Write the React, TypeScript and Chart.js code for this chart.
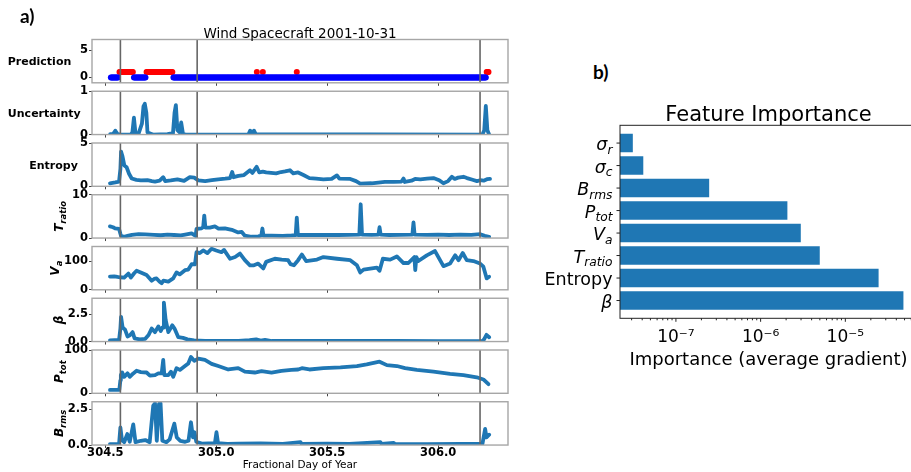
import React, { useEffect, useRef } from 'react';
import { Chart, registerables } from 'chart.js';

Chart.register(...registerables);

const FAMILY = "'DejaVu Sans', sans-serif";
const MPL_BLUE = '#1f77b4';

// ---------------- panel a : shared time axis ----------------
const dayTicks = [304.5, 305.0, 305.5, 306.0];
const dayTickLabels = ['304.5', '305.0', '305.5', '306.0'];
const eventDays = [304.568, 304.914, 306.189];

// classifier output, run-length encoded: [first day, last day, class]
const predictionCadence = 0.004;
const predictionRuns: [number, number, number][] = [
  [304.525, 304.56, 0],
  [304.564, 304.625, 1],
  [304.629, 304.682, 0],
  [304.686, 304.803, 1],
  [304.807, 306.215, 0],
  [306.219, 306.228, 1],
];
const predictionFlagDays = [305.183, 305.21, 305.363];

const uncertaintySeries: [number, number][] = [
  [304.522, 0.01], [304.535, 0.01], [304.545, 0.09], [304.555, 0.01], [304.568, 0.0],
  [304.615, 0.0], [304.622, 0.05], [304.629, 0.39], [304.636, 0.03], [304.65, 0.02],
  [304.665, 0.25], [304.672, 0.65], [304.678, 0.71], [304.685, 0.5], [304.69, 0.05],
  [304.705, 0.02], [304.715, 0.0], [304.78, 0.01], [304.805, 0.03], [304.812, 0.5],
  [304.818, 0.68], [304.825, 0.1], [304.835, 0.05], [304.842, 0.28], [304.85, 0.02],
  [304.86, 0.0], [305.145, 0.0], [305.153, 0.09], [305.162, 0.03], [305.17, 0.09],
  [305.178, 0.01], [306.2, 0.0], [306.208, 0.1], [306.215, 0.66], [306.222, 0.1], [306.23, 0.0],
];

const entropySeries: [number, number][] = [
  [304.521, 0.35], [304.545, 0.45], [304.562, 0.55], [304.568, 2.0], [304.571, 4.0],
  [304.577, 3.5], [304.586, 2.4], [304.596, 2.2], [304.607, 1.45], [304.619, 0.9],
  [304.64, 0.75], [304.66, 0.68], [304.69, 0.7], [304.71, 0.6], [304.724, 0.55],
  [304.745, 0.65], [304.761, 1.05], [304.77, 0.6], [304.795, 0.68], [304.825, 0.8],
  [304.855, 0.62], [304.881, 1.05], [304.901, 1.0], [304.919, 0.68], [304.95, 0.6],
  [304.98, 0.7], [305.009, 0.8], [305.04, 0.88], [305.062, 0.95], [305.072, 1.65],
  [305.078, 1.05], [305.1, 1.2], [305.125, 1.3], [305.152, 1.85], [305.163, 1.55],
  [305.182, 2.25], [305.194, 1.6], [305.21, 1.7], [305.225, 1.6], [305.247, 1.55],
  [305.27, 1.5], [305.292, 1.65], [305.31, 1.72], [305.332, 1.85], [305.347, 1.5],
  [305.369, 1.6], [305.393, 1.3], [305.42, 0.94], [305.45, 0.88], [305.483, 0.8],
  [305.52, 0.85], [305.544, 1.26], [305.555, 0.88], [305.604, 0.85], [305.63, 0.6],
  [305.649, 0.3], [305.7, 0.35], [305.76, 0.5], [305.8, 0.52], [305.835, 0.55],
  [305.844, 0.9], [305.85, 0.5], [305.88, 0.65], [305.896, 0.85], [305.92, 0.8],
  [305.95, 0.88], [305.979, 0.95], [306.005, 0.7], [306.024, 0.35], [306.045, 0.6],
  [306.062, 1.1], [306.075, 0.85], [306.09, 1.0], [306.114, 1.1], [306.13, 0.95],
  [306.155, 0.75], [306.175, 0.6], [306.19, 0.7], [306.205, 0.65], [306.22, 0.82], [306.234, 0.85],
];

const tRatioSeries: [number, number][] = [
  [304.521, 2.7], [304.535, 2.5], [304.544, 2.25], [304.562, 2.1], [304.568, 1.0],
  [304.571, 0.5], [304.585, 0.3], [304.6, 0.5], [304.62, 0.75], [304.65, 0.9],
  [304.68, 0.85], [304.72, 0.75], [304.75, 0.65], [304.78, 0.8], [304.81, 0.7],
  [304.84, 0.6], [304.86, 0.8], [304.889, 1.1], [304.907, 0.5], [304.911, 2.1],
  [304.934, 2.25], [304.941, 2.5], [304.946, 5.2], [304.951, 2.4], [304.971, 2.4],
  [304.994, 2.7], [305.01, 2.2], [305.039, 2.25], [305.07, 1.9], [305.099, 1.3],
  [305.115, 1.4], [305.129, 0.55], [305.159, 0.3], [305.19, 0.4], [305.203, 0.6],
  [305.208, 2.2], [305.213, 0.55], [305.25, 0.55], [305.3, 0.5], [305.34, 0.6],
  [305.358, 0.7], [305.363, 4.7], [305.368, 0.7], [305.4, 0.75], [305.45, 0.7],
  [305.5, 0.75], [305.55, 0.7], [305.6, 0.75], [305.645, 0.8], [305.651, 7.8],
  [305.657, 0.8], [305.7, 0.75], [305.731, 0.8], [305.736, 2.5], [305.741, 0.8],
  [305.78, 0.7], [305.83, 0.75], [305.884, 0.8], [305.889, 3.6], [305.894, 0.8],
  [305.95, 0.75], [306.0, 0.8], [306.05, 0.7], [306.1, 0.8], [306.15, 0.75],
  [306.19, 0.9], [306.21, 0.5], [306.23, 0.3],
];

const vaSeries: [number, number][] = [
  [304.521, 46], [304.54, 47], [304.555, 45], [304.566, 44], [304.585, 43], [304.604, 57],
  [304.615, 43], [304.63, 58], [304.641, 67], [304.66, 61], [304.686, 52], [304.709, 32],
  [304.72, 38], [304.731, 40], [304.745, 28], [304.754, 23], [304.762, 32], [304.784, 29],
  [304.806, 40], [304.821, 61], [304.835, 54], [304.859, 69], [304.874, 71], [304.889, 90],
  [304.904, 89], [304.911, 132], [304.926, 129], [304.941, 138], [304.96, 129], [304.979, 144],
  [305.0, 138], [305.024, 132], [305.035, 140], [305.062, 109], [305.085, 115], [305.107, 127],
  [305.129, 104], [305.152, 86], [305.17, 86], [305.189, 92], [305.212, 75], [305.225, 98],
  [305.264, 109], [305.295, 106], [305.324, 104], [305.335, 90], [305.35, 86], [305.369, 104],
  [305.386, 124], [305.405, 101], [305.454, 106], [305.483, 115], [305.544, 109], [305.604, 104],
  [305.634, 86], [305.649, 61], [305.664, 71], [305.724, 78], [305.736, 67], [305.751, 109],
  [305.784, 106], [305.814, 117], [305.844, 94], [305.866, 94], [305.893, 115], [305.897, 69],
  [305.902, 115], [305.911, 101], [305.949, 121], [305.986, 136], [306.024, 83], [306.054, 92],
  [306.077, 121], [306.092, 104], [306.111, 129], [306.129, 104], [306.159, 101], [306.189, 92],
  [306.204, 81], [306.219, 40], [306.23, 46],
];

const betaSeries: [number, number][] = [
  [304.521, 0.1], [304.562, 0.15], [304.568, 1.2], [304.571, 2.28], [304.578, 1.3],
  [304.589, 1.1], [304.6, 0.47], [304.612, 0.6], [304.623, 0.87], [304.632, 0.3],
  [304.655, 0.2], [304.68, 0.25], [304.695, 0.6], [304.709, 1.2], [304.724, 0.87],
  [304.739, 1.4], [304.75, 0.97], [304.757, 1.28], [304.762, 1.3], [304.764, 3.6],
  [304.772, 2.0], [304.784, 0.87], [304.802, 1.5], [304.812, 1.2], [304.829, 0.4],
  [304.85, 0.34], [304.87, 0.2], [304.9, 0.1], [304.95, 0.05], [305.1, 0.05],
  [305.15, 0.12], [305.18, 0.2], [305.2, 0.08], [305.22, 0.15], [305.25, 0.05],
  [305.5, 0.05], [305.8, 0.05], [306.0, 0.04], [306.2, 0.05], [306.207, 0.2],
  [306.218, 0.62], [306.23, 0.4],
];

const pTotSeries: [number, number][] = [
  [304.521, 7.7], [304.563, 7.7], [304.568, 30], [304.57, 42], [304.576, 48], [304.585, 38],
  [304.6, 46], [304.61, 38], [304.626, 46], [304.641, 52], [304.66, 49], [304.686, 48],
  [304.701, 41], [304.724, 42], [304.739, 46], [304.754, 46], [304.761, 77], [304.766, 42],
  [304.784, 42], [304.796, 50], [304.806, 38], [304.821, 58], [304.836, 54], [304.859, 63],
  [304.874, 69], [304.886, 84], [304.901, 75], [304.919, 80], [304.949, 77], [304.979, 68],
  [305.009, 63], [305.054, 55], [305.099, 58], [305.129, 50], [305.174, 48], [305.204, 51],
  [305.249, 48], [305.294, 52], [305.339, 54], [305.369, 55], [305.386, 58], [305.42, 55],
  [305.483, 58], [305.56, 60], [305.634, 63], [305.678, 67], [305.736, 73], [305.769, 65],
  [305.814, 63], [305.851, 58], [305.904, 54], [305.979, 50], [306.054, 45], [306.114, 42],
  [306.174, 37], [306.204, 32], [306.227, 21],
];

const bRmsSeries: [number, number][] = [
  [304.521, 0.07], [304.562, 0.07], [304.568, 1.24], [304.575, 0.35], [304.585, 0.2],
  [304.599, 0.77], [304.61, 0.23], [304.626, 1.45], [304.636, 0.2], [304.66, 0.3],
  [304.68, 0.35], [304.7, 0.2], [304.716, 2.77], [304.724, 2.93], [304.732, 0.3],
  [304.742, 2.89], [304.749, 2.93], [304.757, 0.3], [304.775, 0.2], [304.79, 0.4],
  [304.811, 1.5], [304.822, 0.54], [304.838, 0.3], [304.86, 0.23], [304.875, 0.3],
  [304.886, 1.6], [304.895, 0.54], [304.902, 0.9], [304.91, 0.23], [304.935, 0.1],
  [304.994, 0.14], [305.001, 0.9], [305.008, 0.14], [305.05, 0.08], [305.1, 0.1],
  [305.2, 0.12], [305.3, 0.08], [305.38, 0.2], [305.385, 0.08], [305.5, 0.1],
  [305.6, 0.08], [305.74, 0.2], [305.745, 0.08], [305.8, 0.15], [305.805, 0.08],
  [305.95, 0.06], [306.1, 0.08], [306.2, 0.1], [306.212, 1.13], [306.218, 0.54], [306.23, 0.73],
];

// ---------------- panel b : feature importance ----------------
// listed bottom to top
const featureMain = ['β', 'Entropy', 'T', 'V', 'P', 'B', 'σ', 'σ'];
const featureSub = ['', '', 'ratio', 'a', 'tot', 'rms', 'c', 'r'];
const featureItalic = [true, false, true, true, true, true, true, true];
const featureImportance = [4.85e-5, 2.47e-5, 4.99e-6, 2.98e-6, 2.07e-6, 2.47e-7, 4.12e-8, 3.1e-8];
const importanceTickValues = [1e-7, 1e-6, 1e-5];
const importanceTickLabels = ['10⁻⁷', '10⁻⁶', '10⁻⁵'];

// ---------------- layout ----------------
const PAGE_W = 911;
const PAGE_H = 472;
const AX_LEFT = 92;
const AX_RIGHT = 508;
const CANVAS_A_W = 530;
const PANEL_TOP0 = 39.5;
const PANEL_STEP = 51.75;
const PANEL_H = 43.3;
const X_MIN = 304.44;
const X_MAX = 306.315;

type Label = { main: string; sub?: string; rotated: boolean; x: number };
type PanelSpec = {
  kind: 'prediction' | 'line';
  series?: [number, number][];
  yMin: number;
  yMax: number;
  yTicks: number[];
  yTickLabels: string[];
  label: Label;
};

const PANELS: PanelSpec[] = [
  { kind: 'prediction', yMin: -1, yMax: 7, yTicks: [0, 5], yTickLabels: ['0', '5'], label: { main: 'Prediction', rotated: false, x: 39.5 } },
  { kind: 'line', series: uncertaintySeries, yMin: 0, yMax: 1, yTicks: [0, 1], yTickLabels: ['0', '1'], label: { main: 'Uncertainty', rotated: false, x: 44.3 } },
  { kind: 'line', series: entropySeries, yMin: 0, yMax: 5, yTicks: [0, 5], yTickLabels: ['0', '5'], label: { main: 'Entropy', rotated: false, x: 53.5 } },
  { kind: 'line', series: tRatioSeries, yMin: 0, yMax: 10, yTicks: [0, 10], yTickLabels: ['0', '10'], label: { main: 'T', sub: 'ratio', rotated: true, x: 59 } },
  { kind: 'line', series: vaSeries, yMin: 0, yMax: 152, yTicks: [0, 100], yTickLabels: ['0', '100'], label: { main: 'V', sub: 'a', rotated: true, x: 55 } },
  { kind: 'line', series: betaSeries, yMin: 0, yMax: 4, yTicks: [0, 2.5], yTickLabels: ['0.0', '2.5'], label: { main: 'β', rotated: true, x: 59 } },
  { kind: 'line', series: pTotSeries, yMin: 0, yMax: 100, yTicks: [0, 100], yTickLabels: ['0', '100'], label: { main: 'P', sub: 'tot', rotated: true, x: 59 } },
  { kind: 'line', series: bRmsSeries, yMin: 0, yMax: 3.04, yTicks: [0, 2.5], yTickLabels: ['0.0', '2.5'], label: { main: 'B', sub: 'rms', rotated: true, x: 59 } },
];

type RichOpts = {
  size: number;
  subSize: number;
  weight: string;
  italic: boolean;
  rotated: boolean;
  align: 'left' | 'center' | 'right';
  subDrop: number;
  baseShift: number;
};

function drawRich(ctx: CanvasRenderingContext2D, x: number, y: number, main: string, sub: string, o: RichOpts) {
  ctx.save();
  const fm = `${o.italic ? 'italic ' : ''}${o.weight} ${o.size}px ${FAMILY}`;
  const fs = `${o.italic ? 'italic ' : ''}${o.weight} ${o.subSize}px ${FAMILY}`;
  ctx.font = fm;
  const wm = ctx.measureText(main).width;
  ctx.font = fs;
  const ws = sub ? ctx.measureText(sub).width : 0;
  const total = wm + ws;
  const start = o.align === 'center' ? -total / 2 : o.align === 'right' ? -total : 0;
  ctx.translate(x, y);
  if (o.rotated) ctx.rotate(-Math.PI / 2);
  ctx.textAlign = 'left';
  ctx.textBaseline = 'alphabetic';
  ctx.fillStyle = '#000';
  const base = o.size * o.baseShift;
  ctx.font = fm;
  ctx.fillText(main, start, base);
  if (sub) {
    ctx.font = fs;
    ctx.fillText(sub, start + wm, base + o.subDrop);
  }
  ctx.restore();
}

function predictionPoints(cls: number) {
  const pts: { x: number; y: number }[] = [];
  predictionRuns.forEach(([a, b, c]) => {
    if (c !== cls) return;
    for (let t = a; t <= b + 1e-9; t += predictionCadence) pts.push({ x: t, y: c });
  });
  if (cls === 1) predictionFlagDays.forEach((d) => pts.push({ x: d, y: 1 }));
  return pts;
}

function PanelChart({ spec, index }: { spec: PanelSpec; index: number }) {
  const ref = useRef<HTMLCanvasElement>(null);
  const isFirst = index === 0;
  const isLast = index === PANELS.length - 1;
  const top = PANEL_TOP0 + index * PANEL_STEP;
  const bottom = top + PANEL_H;
  const canvasTop = isFirst ? 0 : Math.floor(top) - 10;
  const canvasBottom = isLast ? PAGE_H : Math.ceil(bottom) + 8;
  const h = canvasBottom - canvasTop;

  useEffect(() => {
    const datasets: any[] =
      spec.kind === 'prediction'
        ? [
            { data: predictionPoints(0), backgroundColor: '#0000ff', borderWidth: 0, pointRadius: 3, showLine: false },
            { data: predictionPoints(1), backgroundColor: '#ff0000', borderWidth: 0, pointRadius: 3, showLine: false },
          ]
        : [
            {
              data: (spec.series || []).map(([x, y]) => ({ x, y })),
              borderColor: MPL_BLUE,
              borderWidth: 3.8,
              pointRadius: 0,
              tension: 0,
              fill: false,
              borderJoinStyle: 'round',
              borderCapStyle: 'round',
            },
          ];

    const decor = {
      id: 'panelDecor',
      afterDatasetsDraw(chart: any) {
        const { ctx, chartArea: a, scales } = chart;
        const xs = scales.x;
        ctx.save();
        ctx.strokeStyle = '#666';
        ctx.lineWidth = 1.6;
        eventDays.forEach((d) => {
          const px = xs.getPixelForValue(d);
          ctx.beginPath();
          ctx.moveTo(px, a.top);
          ctx.lineTo(px, a.bottom);
          ctx.stroke();
        });
        ctx.strokeStyle = '#a6a6a6';
        ctx.lineWidth = 1.4;
        ctx.strokeRect(a.left, a.top, a.right - a.left, a.bottom - a.top);
        ctx.restore();

        const l = spec.label;
        const cy = (a.top + a.bottom) / 2;
        if (l.rotated) {
          drawRich(ctx, l.x, cy, l.main, l.sub || '', {
            size: 12, subSize: 8.5, weight: 'bold', italic: true, rotated: true, align: 'center', subDrop: 3, baseShift: 0.36,
          });
        } else {
          drawRich(ctx, l.x, cy, l.main, '', {
            size: 11, subSize: 8, weight: 'bold', italic: false, rotated: false, align: 'center', subDrop: 0, baseShift: 0.36,
          });
        }
        ctx.save();
        ctx.fillStyle = '#000';
        ctx.textBaseline = 'alphabetic';
        ctx.textAlign = 'center';
        if (isFirst) {
          ctx.font = `13.5px ${FAMILY}`;
          ctx.fillText('Wind Spacecraft 2001-10-31', (a.left + a.right) / 2, 37.5 - canvasTop);
        }
        if (isLast) {
          ctx.font = `10.5px ${FAMILY}`;
          ctx.fillText('Fractional Day of Year', (a.left + a.right) / 2, 468.3 - canvasTop);
        }
        ctx.restore();
      },
    };

    const chart = new Chart(ref.current as HTMLCanvasElement, {
      type: spec.kind === 'prediction' ? 'scatter' : 'line',
      data: { datasets },
      options: {
        responsive: false,
        animation: false,
        devicePixelRatio: 1,
        layout: { padding: { top: top - canvasTop, right: CANVAS_A_W - AX_RIGHT, left: 0, bottom: 0 } },
        plugins: { legend: { display: false }, tooltip: { enabled: false }, title: { display: false } },
        scales: {
          x: {
            type: 'linear',
            min: X_MIN,
            max: X_MAX,
            afterBuildTicks: (s: any) => {
              s.ticks = dayTicks.map((v) => ({ value: v }));
            },
            afterFit: (s: any) => {
              s.height = canvasBottom - bottom;
            },
            ticks: {
              display: isLast,
              autoSkip: false,
              maxRotation: 0,
              padding: -1,
              color: '#000',
              font: { family: FAMILY, size: 11.5, weight: 'bold', lineHeight: 1 },
              callback: (v: any) => dayTickLabels[dayTicks.indexOf(Number(v))] ?? '',
            },
            grid: { display: true, drawOnChartArea: false, drawTicks: true, tickLength: 3, color: '#444' },
            border: { display: false },
          },
          y: {
            type: 'linear',
            min: spec.yMin,
            max: spec.yMax,
            afterBuildTicks: (s: any) => {
              s.ticks = spec.yTicks.map((v) => ({ value: v }));
            },
            afterFit: (s: any) => {
              s.width = AX_LEFT;
            },
            ticks: {
              autoSkip: false,
              padding: 1,
              color: '#000',
              font: { family: FAMILY, size: 11.5, weight: 'bold', lineHeight: 1 },
              callback: (v: any) => spec.yTickLabels[spec.yTicks.indexOf(Number(v))] ?? '',
            },
            grid: { display: true, drawOnChartArea: false, drawTicks: true, tickLength: 3, color: '#444' },
            border: { display: false },
          },
        },
      } as any,
      plugins: [decor],
    });
    return () => chart.destroy();
  }, []);

  return (
    <canvas
      ref={ref}
      width={CANVAS_A_W}
      height={h}
      style={{ position: 'absolute', left: 0, top: canvasTop, width: CANVAS_A_W, height: h }}
    />
  );
}

// bar chart geometry
const B_CANVAS_LEFT = 520;
const B_CANVAS_TOP = 88;
const B_CANVAS_W = 412;
const B_CANVAS_H = 300;
const B_AX_LEFT = 620;
const B_AX_RIGHT = 917;
const B_AX_TOP = 125.3;
const B_AX_BOTTOM = 318.3;
const IMP_MIN = Math.pow(10, -7.66);
const IMP_MAX = Math.pow(10, -4.154);

function ImportanceChart() {
  const ref = useRef<HTMLCanvasElement>(null);
  useEffect(() => {
    const decor = {
      id: 'barDecor',
      afterDatasetsDraw(chart: any) {
        const { ctx, chartArea: a, scales } = chart;
        const xs = scales.x;
        const ys = scales.y;
        ctx.save();
        ctx.strokeStyle = '#222';
        ctx.lineWidth = 1;
        ctx.strokeRect(a.left, a.top, a.right - a.left, a.bottom - a.top);
        // x tick marks (major / minor)
        xs.ticks.forEach((t: any) => {
          const px = xs.getPixelForValue(t.value);
          const major = importanceTickValues.some((v) => Math.abs(v - t.value) / v < 1e-6);
          ctx.beginPath();
          ctx.moveTo(px, a.bottom);
          ctx.lineTo(px, a.bottom + (major ? 3.5 : 2));
          ctx.stroke();
        });
        // y tick marks
        featureMain.forEach((_, i) => {
          const py = ys.getPixelForValue(i);
          ctx.beginPath();
          ctx.moveTo(a.left, py);
          ctx.lineTo(a.left - 3.5, py);
          ctx.stroke();
        });
        ctx.restore();

        featureMain.forEach((m, i) => {
          const py = ys.getPixelForValue(i);
          drawRich(ctx, a.left - 7.5, py, m, featureSub[i], {
            size: 17.5, subSize: 12.25, weight: 'normal', italic: featureItalic[i], rotated: false, align: 'right', subDrop: 3.5, baseShift: 0.4,
          });
        });

        ctx.save();
        ctx.fillStyle = '#000';
        ctx.textAlign = 'center';
        ctx.textBaseline = 'alphabetic';
        ctx.font = `21px ${FAMILY}`;
        ctx.fillText('Feature Importance', (a.left + a.right) / 2, 120.5 - B_CANVAS_TOP);
        ctx.font = `18px ${FAMILY}`;
        ctx.fillText('Importance (average gradient)', (a.left + a.right) / 2, 365 - B_CANVAS_TOP);
        ctx.restore();
      },
    };

    const chart = new Chart(ref.current as HTMLCanvasElement, {
      type: 'bar',
      data: {
        datasets: [
          {
            data: featureImportance.map((v, i) => ({ x: v, y: i })),
            backgroundColor: MPL_BLUE,
            borderWidth: 0,
            barPercentage: 0.82,
            categoryPercentage: 1,
            base: IMP_MIN,
          },
        ],
      },
      options: {
        indexAxis: 'y',
        responsive: false,
        animation: false,
        devicePixelRatio: 1,
        layout: { padding: { top: B_AX_TOP - B_CANVAS_TOP, right: B_CANVAS_LEFT + B_CANVAS_W - B_AX_RIGHT, left: 0, bottom: 0 } },
        plugins: { legend: { display: false }, tooltip: { enabled: false } },
        scales: {
          x: {
            type: 'logarithmic',
            min: IMP_MIN,
            max: IMP_MAX,
            offset: false,
            afterBuildTicks: (s: any) => {
              const ticks: any[] = [];
              for (let e = -8; e <= -5; e++) {
                for (let m = 1; m <= 9; m++) {
                  const v = m * Math.pow(10, e);
                  if (v >= IMP_MIN && v <= 6.5e-5) ticks.push({ value: v });
                }
              }
              s.ticks = ticks;
            },
            afterFit: (s: any) => {
              s.height = B_CANVAS_TOP + B_CANVAS_H - B_AX_BOTTOM;
            },
            ticks: {
              autoSkip: false,
              maxRotation: 0,
              padding: 10.5,
              color: '#000',
              font: { family: FAMILY, size: 17, lineHeight: 1 },
              callback: (v: any) => {
                const idx = importanceTickValues.findIndex((p) => Math.abs(p - Number(v)) / p < 1e-6);
                return idx >= 0 ? importanceTickLabels[idx] : '';
              },
            },
            grid: { display: false, drawTicks: false, offset: false },
            border: { display: false },
          },
          y: {
            type: 'linear',
            min: -0.79,
            max: 7.79,
            offset: false,
            afterBuildTicks: (s: any) => {
              s.ticks = featureMain.map((_, i) => ({ value: i }));
            },
            afterFit: (s: any) => {
              s.width = B_AX_LEFT - B_CANVAS_LEFT;
            },
            ticks: { display: false },
            grid: { display: false, drawTicks: false, offset: false },
            border: { display: false },
          },
        },
      } as any,
      plugins: [decor],
    });
    return () => chart.destroy();
  }, []);

  return (
    <canvas
      ref={ref}
      width={B_CANVAS_W}
      height={B_CANVAS_H}
      style={{ position: 'absolute', left: B_CANVAS_LEFT, top: B_CANVAS_TOP, width: B_CANVAS_W, height: B_CANVAS_H }}
    />
  );
}

const panelTagStyle: React.CSSProperties = {
  position: 'absolute',
  fontFamily: "Lato, 'Open Sans', sans-serif",
  fontWeight: 700,
  fontSize: 19,
  lineHeight: '19px',
  color: '#000',
};

export default function App() {
  return (
    <div
      style={{
        position: 'absolute',
        left: 0,
        top: 0,
        width: PAGE_W,
        height: PAGE_H,
        overflow: 'hidden',
        background: '#fff',
      }}
    >
      {PANELS.map((p, i) => (
        <PanelChart key={i} spec={p} index={i} />
      ))}
      <ImportanceChart />
      <div style={{ ...panelTagStyle, left: 20, top: 6 }}>a)</div>
      <div style={{ ...panelTagStyle, left: 593, top: 62 }}>b)</div>
    </div>
  );
}
